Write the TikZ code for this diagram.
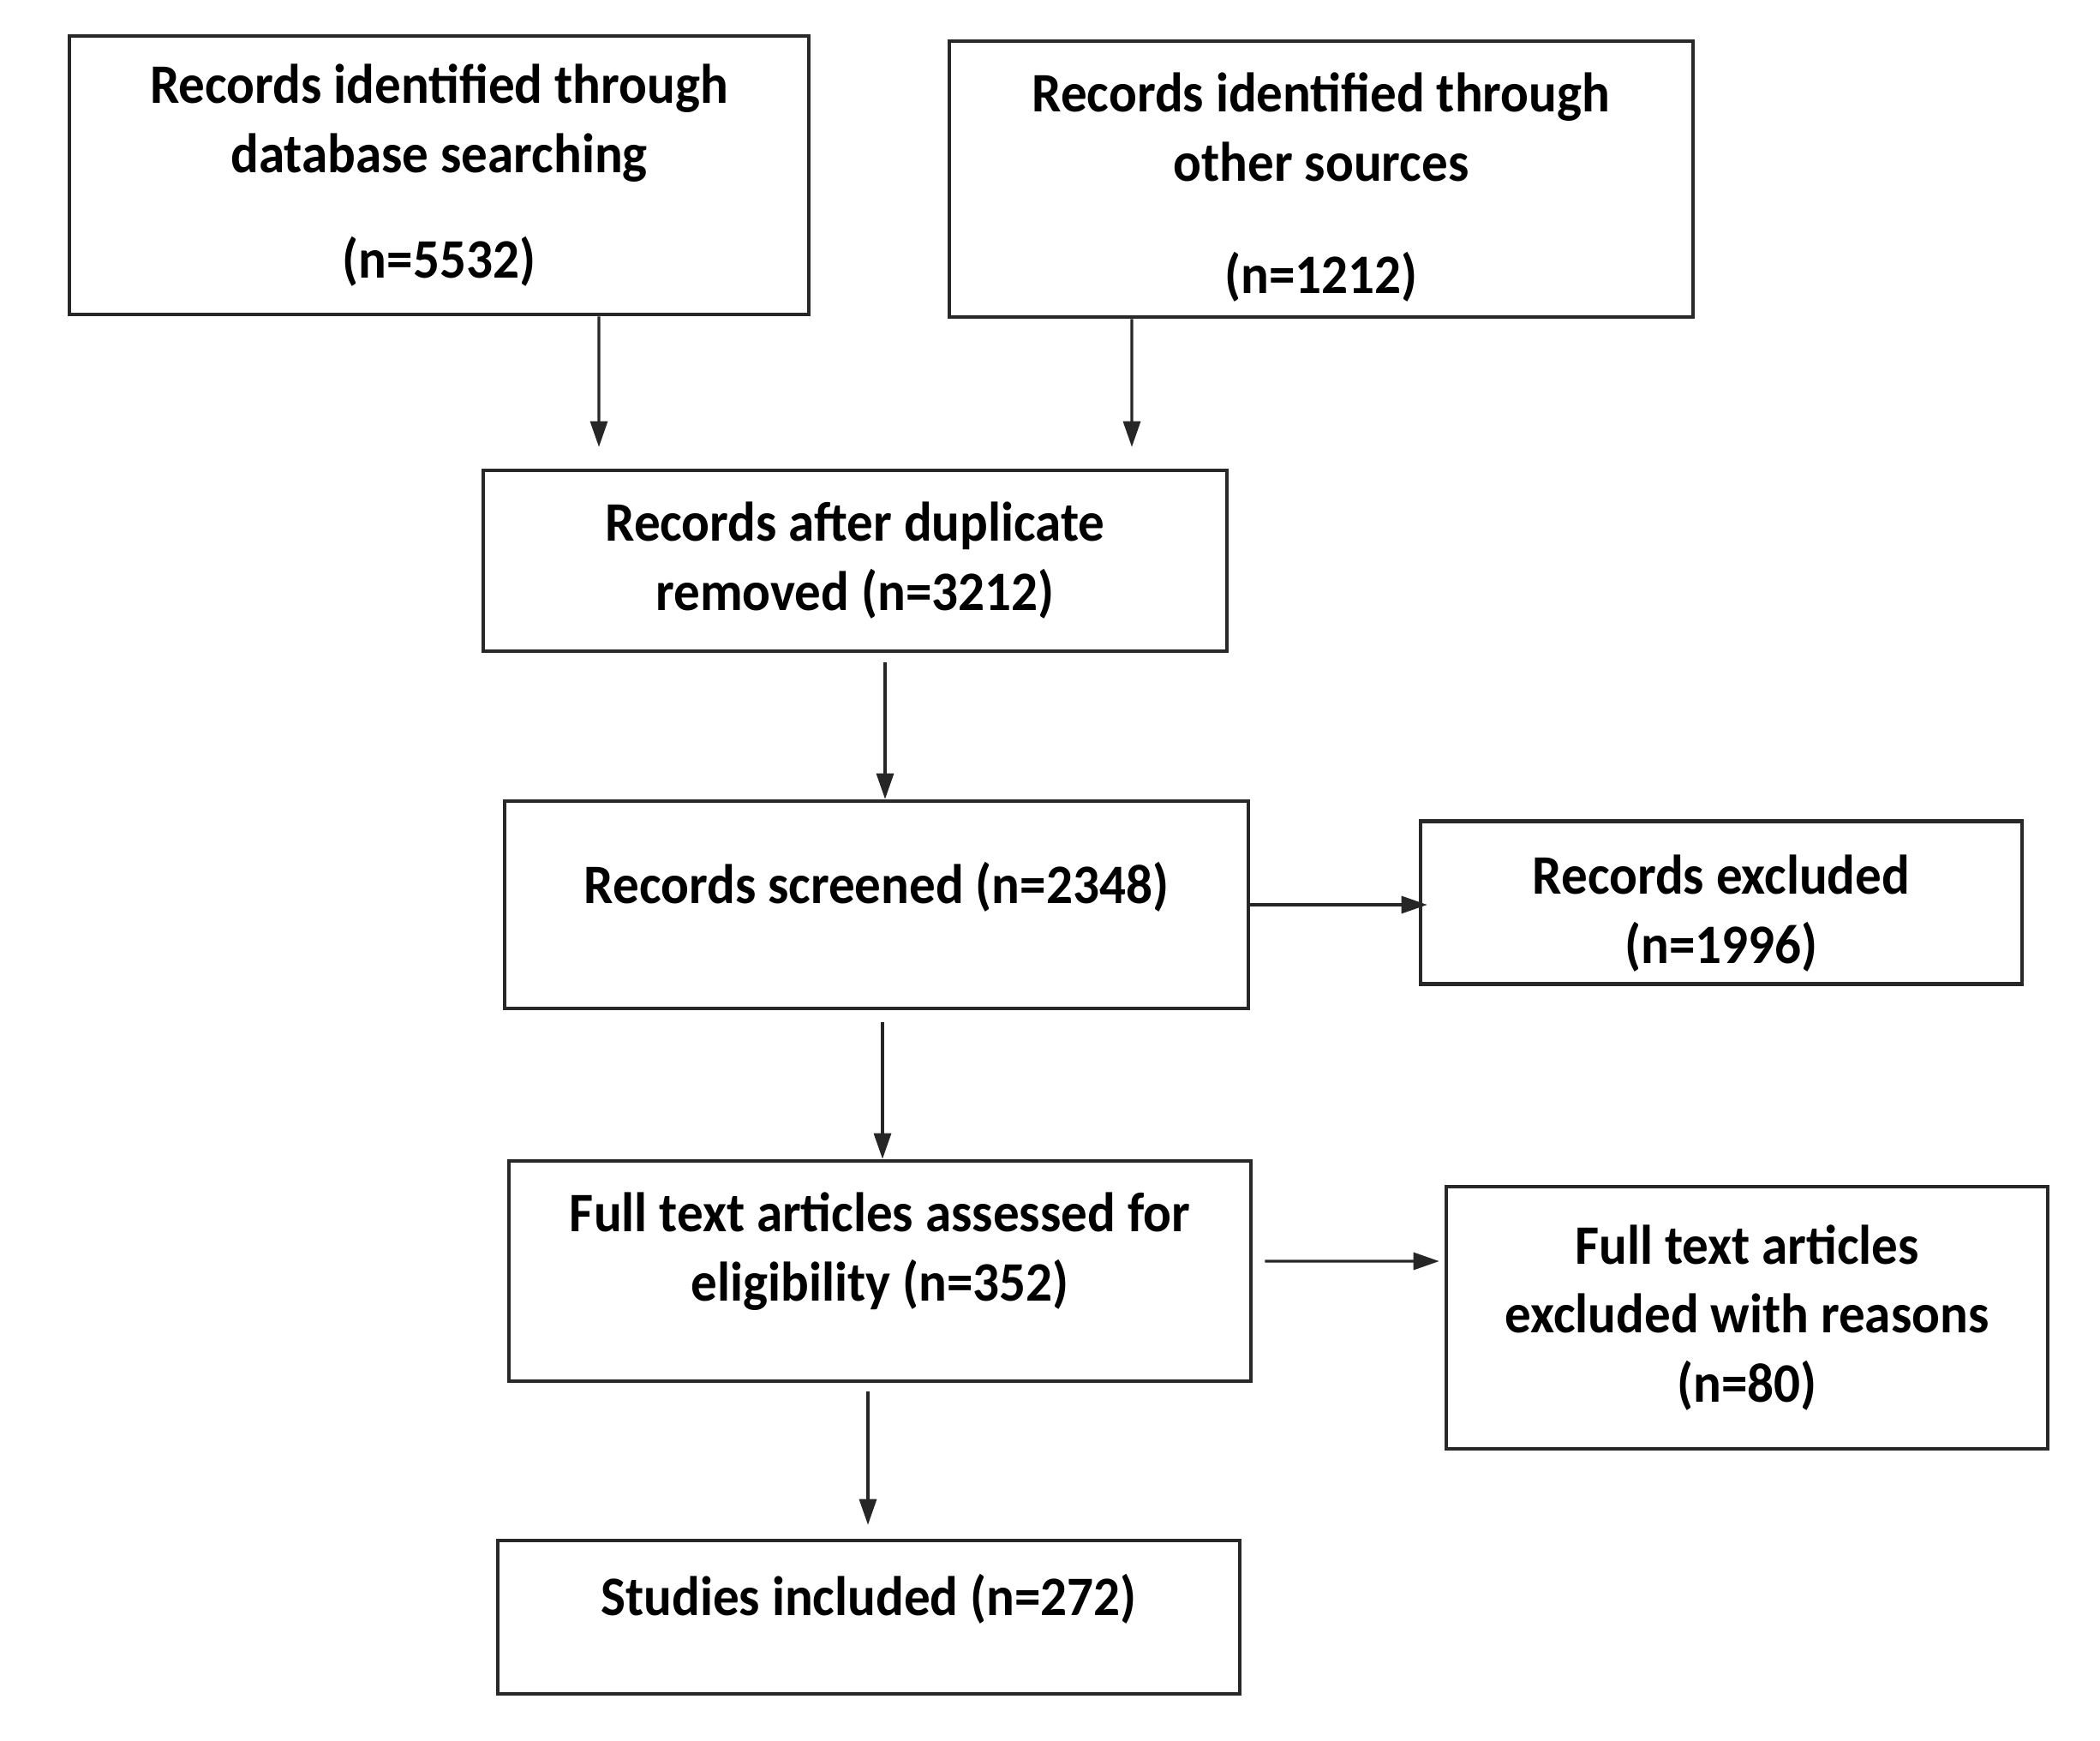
\documentclass[tikz,border=0pt]{standalone}
\usepackage{fontspec}
\setmainfont[FakeStretch=0.94]{Carlito}
\usepackage{tikz}
\usetikzlibrary{arrows.meta,positioning,calc}
\definecolor{boxline}{RGB}{40,40,40}
\tikzset{
  recbox/.style={draw=boxline, line width=1.3pt, fill=white, inner sep=4pt, align=center,
    font=\fontsize{18.5pt}{23pt}\selectfont\bfseries},
  arr/.style={-{Triangle[length=0.3cm,width=0.2cm]}, black!85, line width=0.9pt},
}

\begin{document}
\begin{tikzpicture}
  \useasboundingbox (0,0) rectangle (24.51,20.31);
  % identification
  \node[recbox, minimum width=8.63cm, minimum height=3.25cm] (db) at (5.125,18.265)
    {Records identified through\\database searching\\[0.42cm](n=5532)};
  \node[recbox, minimum width=8.68cm, minimum height=3.22cm] (other) at (15.42,18.22)
    {\rule{0pt}{0.65cm}Records identified through\\other sources\\[0.5cm](n=1212)};
  \node[recbox, minimum width=8.68cm, minimum height=2.11cm] (dup) at (9.98,13.765)
    {Records after duplicate\\removed (n=3212)};
  % screening
  \node[recbox, minimum width=8.68cm, minimum height=2.42cm, text depth=0.51cm] (screen) at (10.23,9.75)
    {Records screened (n=2348)};
  \node[recbox, minimum width=7.02cm, minimum height=1.87cm] (excl) at (20.09,9.775)
    {\rule{0pt}{0.71cm}Records excluded\\(n=1996)};
  % eligibility
  \node[recbox, minimum width=8.66cm, minimum height=2.57cm, text depth=0.57cm] (full) at (10.27,5.475)
    {Full text articles assessed for\\eligibility (n=352)};
  \node[recbox, minimum width=7.02cm, minimum height=3.06cm] (fexcl) at (20.39,4.93)
    {Full text articles\\excluded with reasons\\(n=80)};
  % included
  \node[recbox, minimum width=8.66cm, minimum height=1.79cm, text depth=0.53cm] (incl) at (10.14,1.435)
    {Studies included (n=272)};

  \draw[arr, shorten >=0.25cm] ([xshift=1.865cm]db.south) -- ([xshift=-2.99cm]dup.north);
  \draw[arr, shorten >=0.25cm] ([xshift=-2.21cm]other.south) -- ([xshift=3.23cm]dup.north);
  \draw[arr, shorten <=0.11cm] ([xshift=0.35cm]dup.south) -- ([xshift=0.10cm]screen.north);
  \draw[arr, shorten >=-0.1cm] (screen.east) -- (screen.east -| excl.west);
  \draw[arr, shorten <=0.14cm] ([xshift=0.07cm]screen.south) -- ([xshift=0.03cm]full.north);
  \draw[arr, shorten <=0.14cm, shorten >=0.06cm] ([yshift=0.115cm]full.east) -- ([yshift=0.66cm]fexcl.west);
  \draw[arr, shorten <=0.1cm, shorten >=0.16cm] ([xshift=-0.14cm]full.south) -- ([xshift=-0.01cm]incl.north);
\end{tikzpicture}
\end{document}
